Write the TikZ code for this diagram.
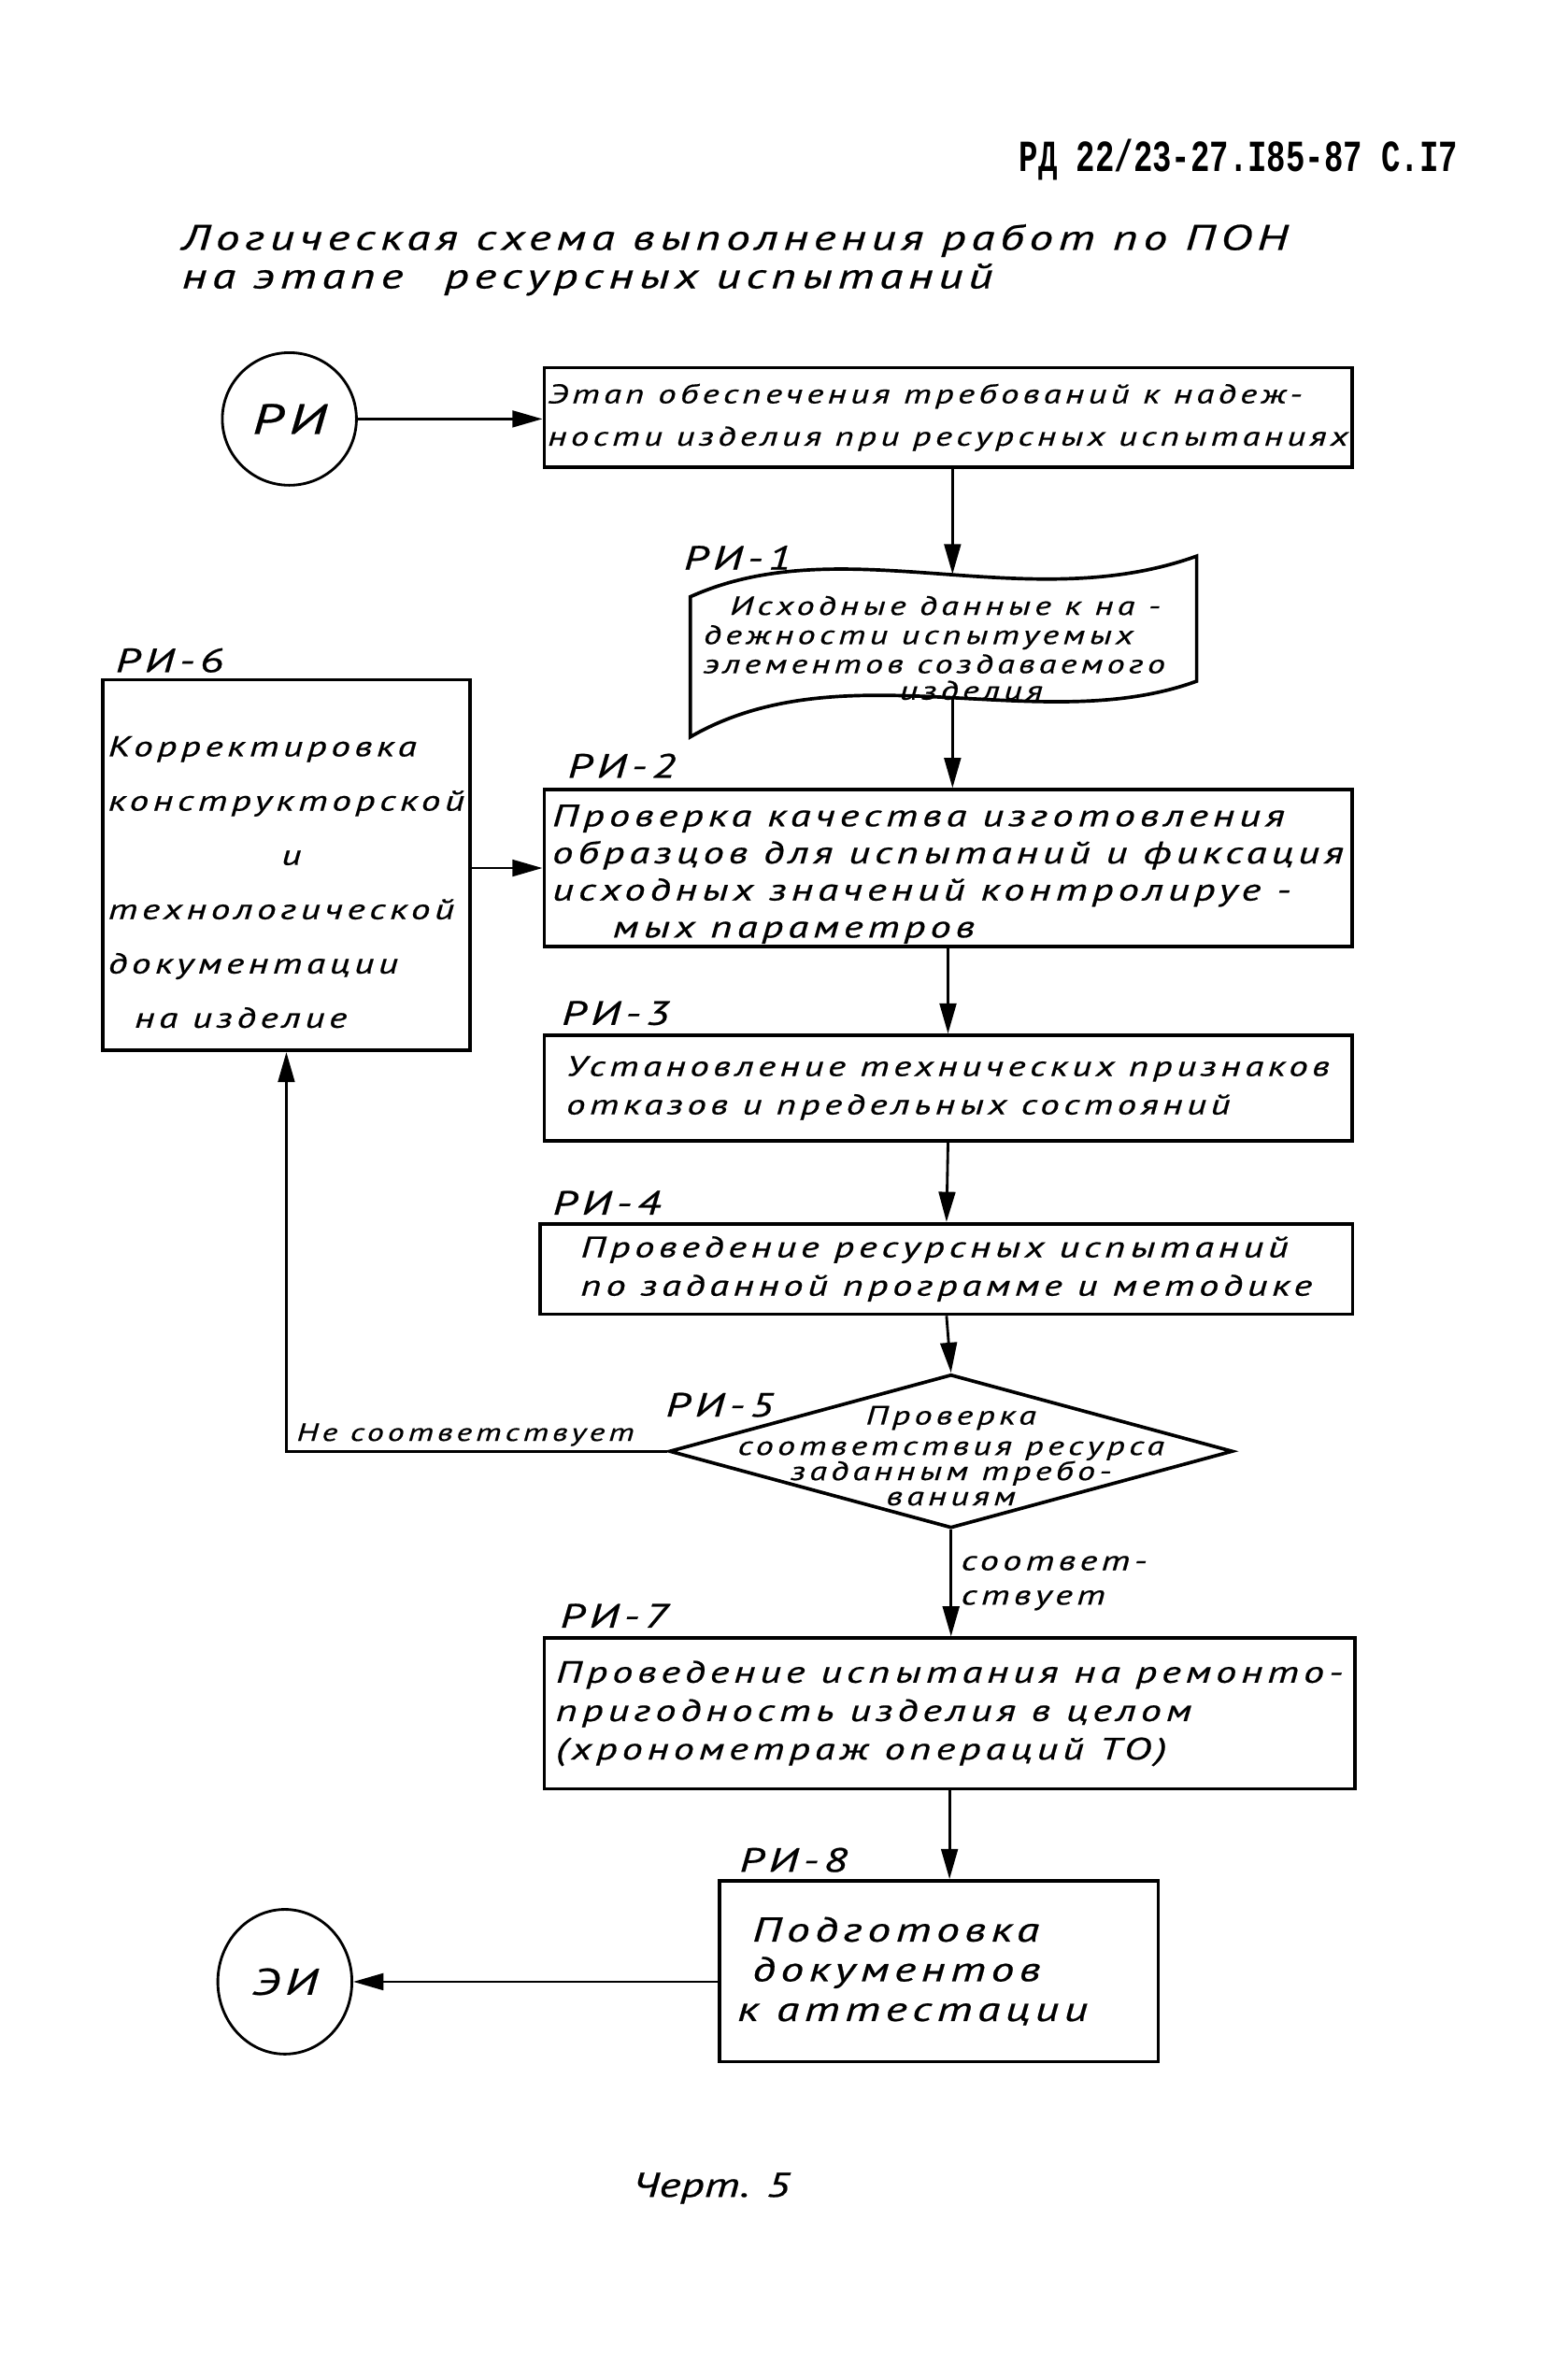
\documentclass[tikz,border=0pt]{standalone}
\usepackage{fontspec}
\setmainfont{PT Sans}
\newfontfamily\handfont{PT Sans}[FakeStretch=1.35,LetterSpace=15,FakeBold=0.6]
\newfontfamily\typefont{Liberation Mono}
\usetikzlibrary{arrows.meta,shapes.geometric}

\newcommand{\ruka}[2]{\handfont\itshape\fontsize{#1}{#2}\selectfont}

\begin{document}
\begin{tikzpicture}[x=0.02cm, y=-0.02cm, line width=1pt,
    >={Triangle[length=0.4cm,width=0.22cm]},
    blok/.style={draw, rectangle, line width=1.3pt, inner sep=0pt, align=left, font=\ruka{10.5}{14.5}},
    krug/.style={draw, ellipse, line width=1pt, inner sep=0pt, minimum width=1.78cm, minimum height=1.76cm, font=\ruka{16}{18}},
    romb/.style={draw, diamond, line width=1.3pt, inner sep=0pt, minimum width=7.48cm, minimum height=2.04cm},
    metka/.style={anchor=base west, font=\ruka{12.7}{15}}]
  \useasboundingbox (0,0) rectangle (1040,1568);

  % shapka
  \node[anchor=east, font=\typefont\bfseries\fontsize{12}{14}\selectfont] (shifr) at (974,106) {\scalebox{1}[1.4]{РД 22/23-27.I85-87 С.I7}};
  \node[anchor=north west, align=left, font=\ruka{13.4}{14.5}] (zagl) at (114,142)
    {Логическая схема выполнения работ по ПОН\\на этапе\hspace{0.55cm}ресурсных испытаний};

  % bloki
  \node[krug] (ri) at (192,278) {РИ};
  \node[blok, minimum width=10.72cm, minimum height=1.32cm, font=\ruka{10.15}{16}] (b0) at (629,277)
    {Этап обеспечения требований к надеж-\\ности изделия при ресурсных испытаниях};

  \draw[line width=1.3pt] (458,396) .. controls (560,350) and (680,410) .. (794,369)
    -- (794,452) .. controls (690,490) and (560,430) .. (458,489) -- cycle;
  \coordinate (b1top) at (632,381);
  \coordinate (b1bot) at (632,464);
  \node[align=left, font=\ruka{10}{11}] (b1) at (620,430)
    {\hspace{0.35cm}Исходные данные к на -\\дежности испытуемых\\элементов создаваемого\\[-1pt]\hspace{2.6cm}изделия};

  \node[blok, minimum width=10.72cm, minimum height=2.08cm, font=\ruka{11.7}{14}] (b2) at (629,576)
    {\rule{0pt}{0.45cm}Проверка качества изготовления\\образцов для испытаний и фиксация\\исходных значений контролируе -\\\hspace{0.8cm}мых параметров};
  \node[blok, minimum width=4.88cm, minimum height=4.92cm, font=\ruka{10.8}{20.5}] (b6) at (190,574)
    {\rule{0pt}{0.72cm}Корректировка\\конструкторской\\\hspace{2.3cm}и\\технологической\\документации\\\hspace{0.35cm}на изделие};
  \node[blok, minimum width=10.72cm, minimum height=1.4cm, font=\ruka{10.7}{14.5}] (b3) at (629,722)
    {Установление технических признаков\\отказов и предельных состояний};
  \node[blok, minimum width=10.78cm, minimum height=1.2cm, font=\ruka{11.1}{14.5}] (b4) at (628,842)
    {Проведение ресурсных испытаний\\по заданной программе и методике};
  \node[romb] (d5) at (631,963) {};
  \node[align=center, font=\ruka{10}{9.5}] (d5t) at (631,966)
    {Проверка\\[2pt]соответствия ресурса\\заданным требо-\\ваниям};
  \node[blok, minimum width=10.76cm, minimum height=2cm, font=\ruka{11.6}{14.5}] (b7) at (630,1137)
    {Проведение испытания на ремонто-\\пригодность изделия в целом\\(хронометраж операций ТО)};
  \node[blok, minimum width=5.82cm, minimum height=2.4cm, font=\ruka{13}{15}] (b8) at (623,1308)
    {\hspace{0.2cm}Подготовка\\\hspace{0.2cm}документов\\к аттестации\hspace*{0.7cm}};
  \node[krug, minimum height=1.92cm, font=\ruka{14}{16}] (ei) at (189,1315) {ЭИ};

  % metki
  \node[metka] (m1) at (447,378) {РИ-1};
  \node[metka] (m6) at (70,446) {РИ-6};
  \node[metka] (m2) at (370,516) {РИ-2};
  \node[metka] (m3) at (366,680) {РИ-3};
  \node[metka] (m4) at (360,806) {РИ-4};
  \node[metka] (m5) at (435,940) {РИ-5};
  \node[metka] (m7) at (365,1080) {РИ-7};
  \node[metka] (m8) at (484,1242) {РИ-8};

  % strelki
  \draw[->] (ri.east) -- (ri.east -| b0.west);
  \draw[->] (b0.south -| b1top) -- (b1top);
  \draw[->] (b1bot) -- (b1bot |- b2.north);
  \draw[->] (b6.east |- b2.west) -- (b2.west);
  \draw[->] (b2.south) -- (b3.north);
  \draw[->] (b3.south) -- (b4.north);
  \draw[->] (b4.south) -- (d5.north);
  \draw[->] (d5.west) -- node[above, inner sep=1.5pt, pos=0.53, font=\ruka{9.4}{12}] (net) {Не соответствует}
    (b6.south |- d5.west) -- (b6.south);
  \draw[->] (d5.south) -- node[right, align=left, font=\ruka{10.5}{13}] (da) {соответ-\\ствует} (d5.south |- b7.north);
  \draw[->] (b7.south) -- (b7.south |- b8.north);
  \draw[->] (ei.east -| b8.west) -- (ei.east);

  \node[font=\ruka{13}{15}\addfontfeature{LetterSpace=0}] (chert) at (472,1452) {Черт. 5};
\end{tikzpicture}
\end{document}
